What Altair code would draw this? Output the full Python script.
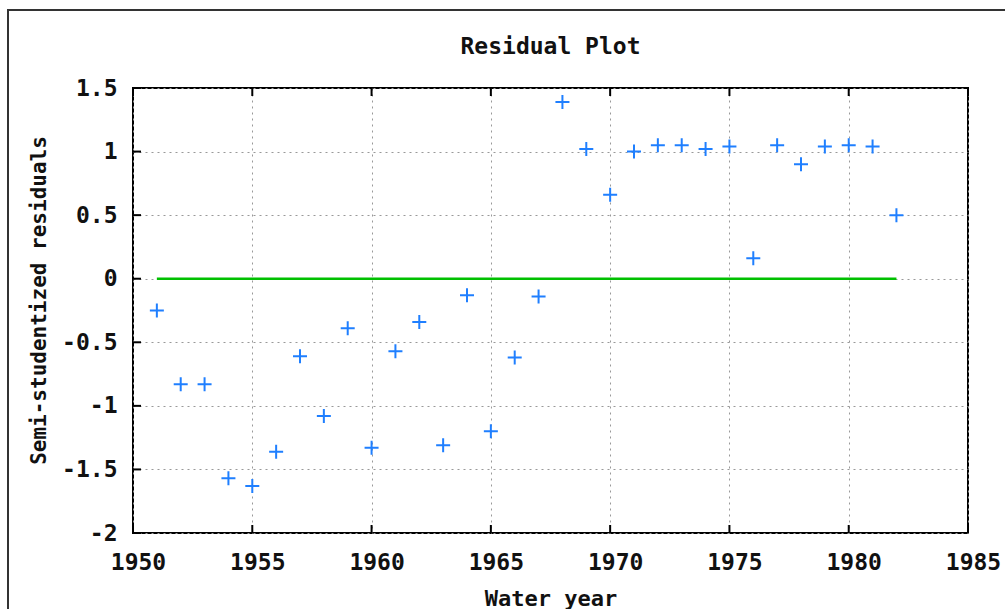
import altair as alt
import pandas as pd

years = list(range(1951, 1983))
residuals = [-0.25, -0.83, -0.83, -1.57, -1.63, -1.36, -0.61, -1.08, -0.39, -1.33,
             -0.57, -0.34, -1.31, -0.13, -1.20, -0.62, -0.14, 1.39, 1.02, 0.66,
             1.00, 1.05, 1.05, 1.02, 1.04, 0.16, 1.05, 0.90, 1.04, 1.05,
             1.04, 0.50]
fit_x = [1951, 1982]
fit_y = [0, 0]
x_ticks = [1950, 1955, 1960, 1965, 1970, 1975, 1980, 1985]
y_ticks = [-2, -1.5, -1, -0.5, 0, 0.5, 1, 1.5]

W, H = 835, 445
FONT = "DejaVu Sans Mono"

pts = pd.DataFrame({"year": years, "res": residuals})
fit = pd.DataFrame({"year": fit_x, "res": fit_y})
xt = pd.DataFrame({"v": x_ticks})
yt = pd.DataFrame({"v": y_ticks})
one = pd.DataFrame({"a": [0]})

xscale = alt.Scale(domain=[1950, 1985], nice=False, zero=False)
yscale = alt.Scale(domain=[-2, 1.5], nice=False, zero=False)

xaxis = alt.Axis(values=x_ticks, format="d", title="Water year", grid=True,
                 gridColor="#999999", gridDash=[2, 4], gridWidth=1,
                 ticks=False, domain=False, labelFont=FONT, labelFontWeight="bold",
                 labelFontSize=23, labelColor="#111111", labelPadding=18, labelOffset=5,
                 labelFlush=False,
                 titleFont=FONT, titleFontWeight="bold", titleFontSize=22,
                 titleColor="#111111", titleY=72, titleBaseline="alphabetic")
yaxis = alt.Axis(values=y_ticks, title="Semi-studentized residuals", grid=True,
                 gridColor="#999999", gridDash=[2, 4], gridWidth=1,
                 ticks=False, domain=False, labelFont=FONT, labelFontWeight="bold",
                 labelFontSize=23, labelColor="#111111", labelPadding=16,
                 labelFlush=False,
                 labelExpr="replace(format(datum.value, ''), '−', '-')",
                 titleFont=FONT, titleFontWeight="bold", titleFontSize=21,
                 titleColor="#111111", titleX=-88, titleY=212,
                 titleBaseline="alphabetic")

frame = alt.Chart(one).mark_rect(fill=None, stroke="#333333", strokeWidth=2).encode(
    x=alt.value(8 - 133), x2=alt.value(1020 - 133),
    y=alt.value(10 - 88), y2=alt.value(640 - 88))

base_pts = alt.Chart(pts).mark_point(
    shape="M-1,0L1,0M0,-1L0,1", filled=False, size=196, strokeWidth=2,
    color="#1f7fff", opacity=1).encode(
    x=alt.X("year:Q", scale=xscale, axis=xaxis),
    y=alt.Y("res:Q", scale=yscale, axis=yaxis))

line = alt.Chart(fit).mark_line(color="#00c000", strokeWidth=2.5).encode(
    x=alt.X("year:Q", scale=xscale), y=alt.Y("res:Q", scale=yscale))

tick_bottom = alt.Chart(xt).mark_rule(color="black", strokeWidth=2).encode(
    x=alt.X("v:Q", scale=xscale), y=alt.value(H - 8), y2=alt.value(H))
tick_top = alt.Chart(xt).mark_rule(color="black", strokeWidth=2).encode(
    x=alt.X("v:Q", scale=xscale), y=alt.value(0), y2=alt.value(8))
tick_left = alt.Chart(yt).mark_rule(color="black", strokeWidth=2).encode(
    y=alt.Y("v:Q", scale=yscale), x=alt.value(0), x2=alt.value(8))

chart = alt.layer(frame, line, tick_bottom, tick_top, tick_left, base_pts).properties(
    width=W, height=H,
    title=alt.TitleParams("Residual Plot", font=FONT, fontWeight="bold", fontSize=23,
                          color="#111111", anchor="middle", offset=0, dy=68,
                          baseline="alphabetic"),
    padding={"left": 133, "top": 88, "right": 37, "bottom": 76},
    autosize=alt.AutoSizeParams(type="none"),
    background="white",
).configure_view(stroke="black", strokeWidth=2)

chart.save("out.html", embed_options={"renderer": "svg", "actions": False})
